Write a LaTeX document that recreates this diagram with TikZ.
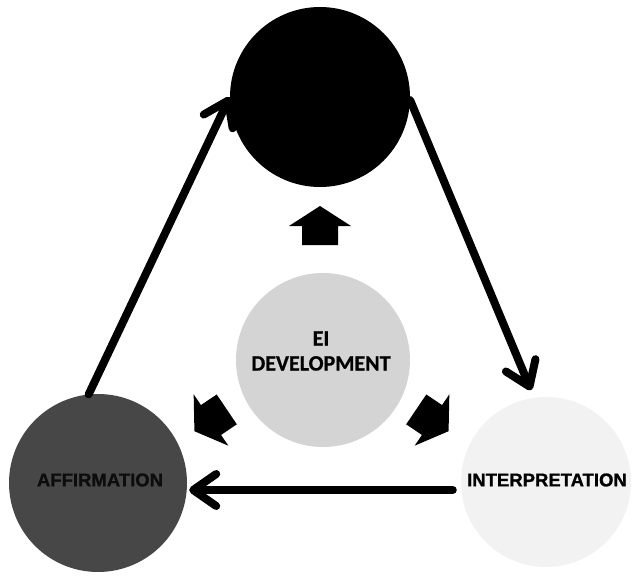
\documentclass[tikz,border=0pt]{standalone}
\usepackage{fontspec}
\setmainfont{Liberation Sans}
\newfontfamily\heavyfont{Liberation Sans}[BoldFeatures={FakeBold=1.2}]
\newfontfamily\calibrifont{Carlito}[BoldFeatures={FakeBold=0.8}]
\usetikzlibrary{arrows.meta,calc}

\tikzset{
  ball/.style={circle, draw=none, inner sep=0pt, minimum size=#1},
  cycleline/.style={line width=8pt, line cap=round,
    -{Straight Barb[length=23pt,width=32pt,round]}},
  roundlabel/.style={font=\heavyfont\bfseries\fontsize{18.5}{21}\selectfont, inner sep=0pt},
  blockfill/.style={fill=black, draw=none}
}

% short thick block arrow pointing along local +x
\newcommand{\blockarrow}[3]{%
  \fill[blockfill, shift={(#1,#2)}, rotate=#3]
    (-19,-18) -- (0,-18) -- (0,-31) -- (20,0) -- (0,31) -- (0,18) -- (-19,18) -- cycle;}

\begin{document}
\begin{tikzpicture}[x=1pt,y=-1pt]
  \useasboundingbox (0,0) rectangle (635,578);

  % the four stages
  \node[ball=180, fill=black]    (top) at (320,97)  {};
  \node[ball=178, fill=black!72] (bl)  at (98,483)  {};
  \node[ball=170, fill=black!5]  (br)  at (546,482) {};
  \node[ball=174, fill=black!17] (mid) at (323,360) {};

  % labels
  \node[font=\calibrifont\bfseries\fontsize{22}{25}\selectfont, align=center,
        inner sep=0pt] (midlabel) at (321,351) {EI\\DEVELOPMENT};
  \node[roundlabel, text=black!95] (bllabel) at (100,480) {AFFIRMATION};
  \node[roundlabel] (brlabel) at (547,480) {INTERPRETATION};

  % cycle connectors
  \draw[cycleline] (bl.96) -- (top.180);
  \draw[cycleline, shorten >=8pt] (top.-2) -- (br.98);
  \coordinate (bstart) at ($(br.west)+(-8,8)$);
  \coordinate (bend)   at ($(bl.east)+(2,7)$);
  \draw[cycleline] (bstart) -- (bend);

  % block arrows leaving the centre
  \blockarrow{320}{226}{90}
  \blockarrow{211}{420}{214}
  \blockarrow{432}{420}{326}
\end{tikzpicture}
\end{document}
